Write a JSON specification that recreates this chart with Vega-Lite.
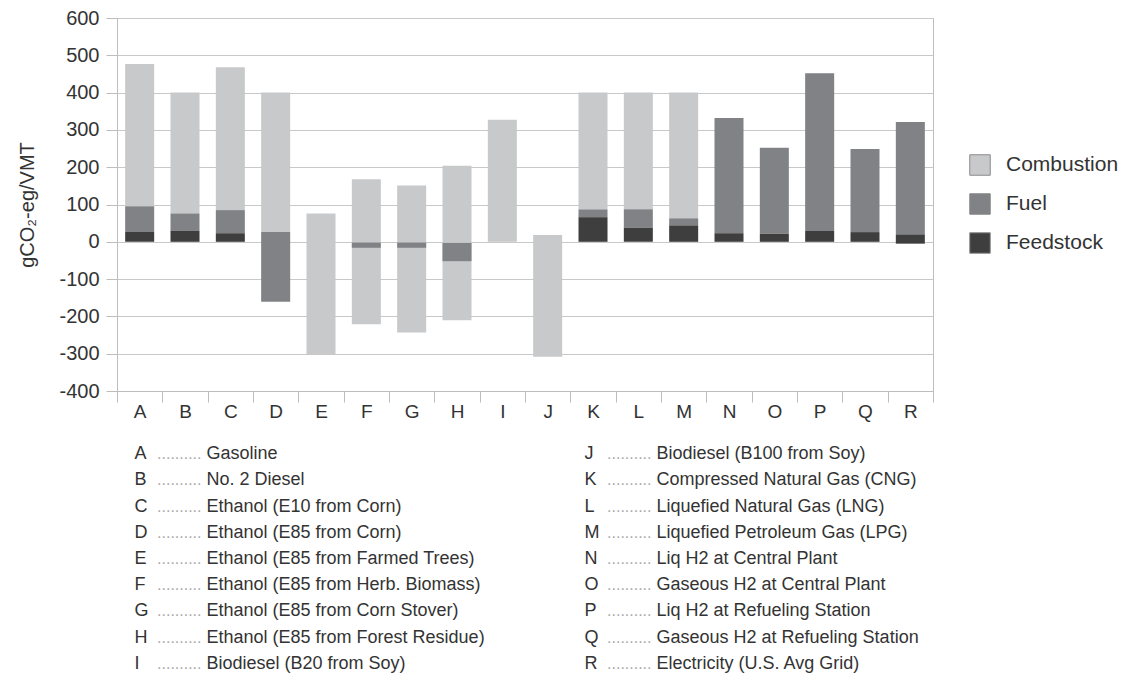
{
  "$schema": "https://vega.github.io/schema/vega-lite/v6.json",
  "background": "white",
  "padding": {"left": 17, "top": 7, "right": 5, "bottom": 0},
  "spacing": 23,
  "config": {
    "font": "Liberation Sans",
    "axis": {"labelColor": "#333333", "titleColor": "#333333", "labelFont": "Liberation Sans", "titleFont": "Liberation Sans"},
    "legend": {"labelFont": "Liberation Sans", "labelColor": "#333333"}
  },
  "datasets": {
    "bars": [
      {"code": "A", "component": "Combustion", "y0": 95, "y1": 477},
      {"code": "B", "component": "Combustion", "y0": 76, "y1": 400},
      {"code": "C", "component": "Combustion", "y0": 85, "y1": 468},
      {"code": "D", "component": "Combustion", "y0": 26, "y1": 400},
      {"code": "E", "component": "Combustion", "y0": -301, "y1": 76},
      {"code": "F", "component": "Combustion", "y0": -221, "y1": 168},
      {"code": "G", "component": "Combustion", "y0": -243, "y1": 151},
      {"code": "H", "component": "Combustion", "y0": -210, "y1": 204},
      {"code": "I", "component": "Combustion", "y0": 0, "y1": 327},
      {"code": "J", "component": "Combustion", "y0": -308, "y1": 18},
      {"code": "K", "component": "Combustion", "y0": 87, "y1": 400},
      {"code": "L", "component": "Combustion", "y0": 87, "y1": 400},
      {"code": "M", "component": "Combustion", "y0": 63, "y1": 400},
      {"code": "A", "component": "Fuel", "y0": 26, "y1": 95},
      {"code": "B", "component": "Fuel", "y0": 30, "y1": 76},
      {"code": "C", "component": "Fuel", "y0": 23, "y1": 85},
      {"code": "D", "component": "Fuel", "y0": -161, "y1": 26},
      {"code": "F", "component": "Fuel", "y0": -16, "y1": -2},
      {"code": "G", "component": "Fuel", "y0": -16, "y1": -2},
      {"code": "H", "component": "Fuel", "y0": -52, "y1": -3},
      {"code": "K", "component": "Fuel", "y0": 66, "y1": 87},
      {"code": "L", "component": "Fuel", "y0": 38, "y1": 87},
      {"code": "M", "component": "Fuel", "y0": 44, "y1": 63},
      {"code": "N", "component": "Fuel", "y0": 23, "y1": 332},
      {"code": "O", "component": "Fuel", "y0": 22, "y1": 252},
      {"code": "P", "component": "Fuel", "y0": 29, "y1": 452},
      {"code": "Q", "component": "Fuel", "y0": 26, "y1": 249},
      {"code": "R", "component": "Fuel", "y0": 20, "y1": 321},
      {"code": "A", "component": "Feedstock", "y0": 0, "y1": 26},
      {"code": "B", "component": "Feedstock", "y0": 0, "y1": 30},
      {"code": "C", "component": "Feedstock", "y0": 0, "y1": 23},
      {"code": "K", "component": "Feedstock", "y0": 0, "y1": 66},
      {"code": "L", "component": "Feedstock", "y0": 0, "y1": 38},
      {"code": "M", "component": "Feedstock", "y0": 0, "y1": 44},
      {"code": "N", "component": "Feedstock", "y0": 0, "y1": 23},
      {"code": "O", "component": "Feedstock", "y0": 0, "y1": 22},
      {"code": "P", "component": "Feedstock", "y0": 0, "y1": 29},
      {"code": "Q", "component": "Feedstock", "y0": 0, "y1": 26},
      {"code": "R", "component": "Feedstock", "y0": -5, "y1": 20}
    ],
    "keys": [
      {"col": "left", "row": 1, "letter": "A", "name": "Gasoline"},
      {"col": "left", "row": 2, "letter": "B", "name": "No. 2 Diesel"},
      {"col": "left", "row": 3, "letter": "C", "name": "Ethanol (E10 from Corn)"},
      {"col": "left", "row": 4, "letter": "D", "name": "Ethanol (E85 from Corn)"},
      {"col": "left", "row": 5, "letter": "E", "name": "Ethanol (E85 from Farmed Trees)"},
      {"col": "left", "row": 6, "letter": "F", "name": "Ethanol (E85 from Herb. Biomass)"},
      {"col": "left", "row": 7, "letter": "G", "name": "Ethanol (E85 from Corn Stover)"},
      {"col": "left", "row": 8, "letter": "H", "name": "Ethanol (E85 from Forest Residue)"},
      {"col": "left", "row": 9, "letter": "I", "name": "Biodiesel (B20 from Soy)"},
      {"col": "right", "row": 1, "letter": "J", "name": "Biodiesel (B100 from Soy)"},
      {"col": "right", "row": 2, "letter": "K", "name": "Compressed Natural Gas (CNG)"},
      {"col": "right", "row": 3, "letter": "L", "name": "Liquefied Natural Gas (LNG)"},
      {"col": "right", "row": 4, "letter": "M", "name": "Liquefied Petroleum Gas (LPG)"},
      {"col": "right", "row": 5, "letter": "N", "name": "Liq H2 at Central Plant"},
      {"col": "right", "row": 6, "letter": "O", "name": "Gaseous H2 at Central Plant"},
      {"col": "right", "row": 7, "letter": "P", "name": "Liq H2 at Refueling Station"},
      {"col": "right", "row": 8, "letter": "Q", "name": "Gaseous H2 at Refueling Station"},
      {"col": "right", "row": 9, "letter": "R", "name": "Electricity (U.S. Avg Grid)"}
    ]
  },
  "vconcat": [
    {
      "width": 816,
      "height": 373,
      "view": {"stroke": "#bdbdbd"},
      "data": {"name": "bars"},
      "mark": {"type": "bar", "width": {"band": 0.64}},
      "encoding": {
        "x": {
          "field": "code", "type": "nominal",
          "scale": {"paddingInner": 0, "paddingOuter": 0},
          "axis": {"title": null, "labelAngle": 0, "tickBand": "extent", "labelFontSize": 19, "labelPadding": 0, "tickSize": 11, "domainColor": "#bdbdbd", "tickColor": "#bdbdbd", "grid": false}
        },
        "y": {
          "field": "y0", "type": "quantitative",
          "scale": {"domain": [-400, 600], "nice": false},
          "axis": {
            "values": [-400, -300, -200, -100, 0, 100, 200, 300, 400, 500, 600],
            "labelExpr": "'' + datum.value",
            "title": "gCO₂-eg/VMT", "titleFontSize": 20, "titleFontWeight": "normal", "titlePadding": 21,
            "labelFontSize": 20, "labelPadding": 7, "tickSize": 11,
            "tickColor": "#bdbdbd", "domainColor": "#bdbdbd", "gridColor": "#c8c8c8"
          }
        },
        "y2": {"field": "y1"},
        "color": {
          "field": "component", "type": "nominal",
          "scale": {"domain": ["Combustion", "Fuel", "Feedstock"], "range": ["#c8c9cb", "#818286", "#3e3e3e"]},
          "legend": {
            "title": null, "orient": "none", "legendX": 852, "legendY": 136,
            "symbolType": "square", "symbolSize": 420, "symbolStrokeColor": "#8a8a8a", "symbolStrokeWidth": 1,
            "labelFontSize": 21, "labelOffset": 15, "rowPadding": 13
          }
        }
      }
    },
    {
      "width": 485,
      "height": 220,
      "view": {"stroke": null},
      "data": {"name": "keys"},
      "encoding": {
        "x": {"field": "col", "type": "nominal", "scale": {"type": "point", "padding": 0.0389}, "axis": null},
        "y": {"field": "row", "type": "ordinal", "scale": {"type": "point", "padding": 0.2}, "axis": null}
      },
      "layer": [
        {"mark": {"type": "text", "align": "left", "baseline": "middle", "fontSize": 18, "color": "#333333"}, "encoding": {"text": {"field": "letter"}}},
        {"mark": {"type": "text", "align": "right", "baseline": "middle", "dx": 67, "fontSize": 16, "color": "#aaaaaa"}, "encoding": {"text": {"value": ".........."}}},
        {"mark": {"type": "text", "align": "left", "baseline": "middle", "dx": 72, "fontSize": 18, "color": "#333333"}, "encoding": {"text": {"field": "name"}}}
      ]
    }
  ]
}
